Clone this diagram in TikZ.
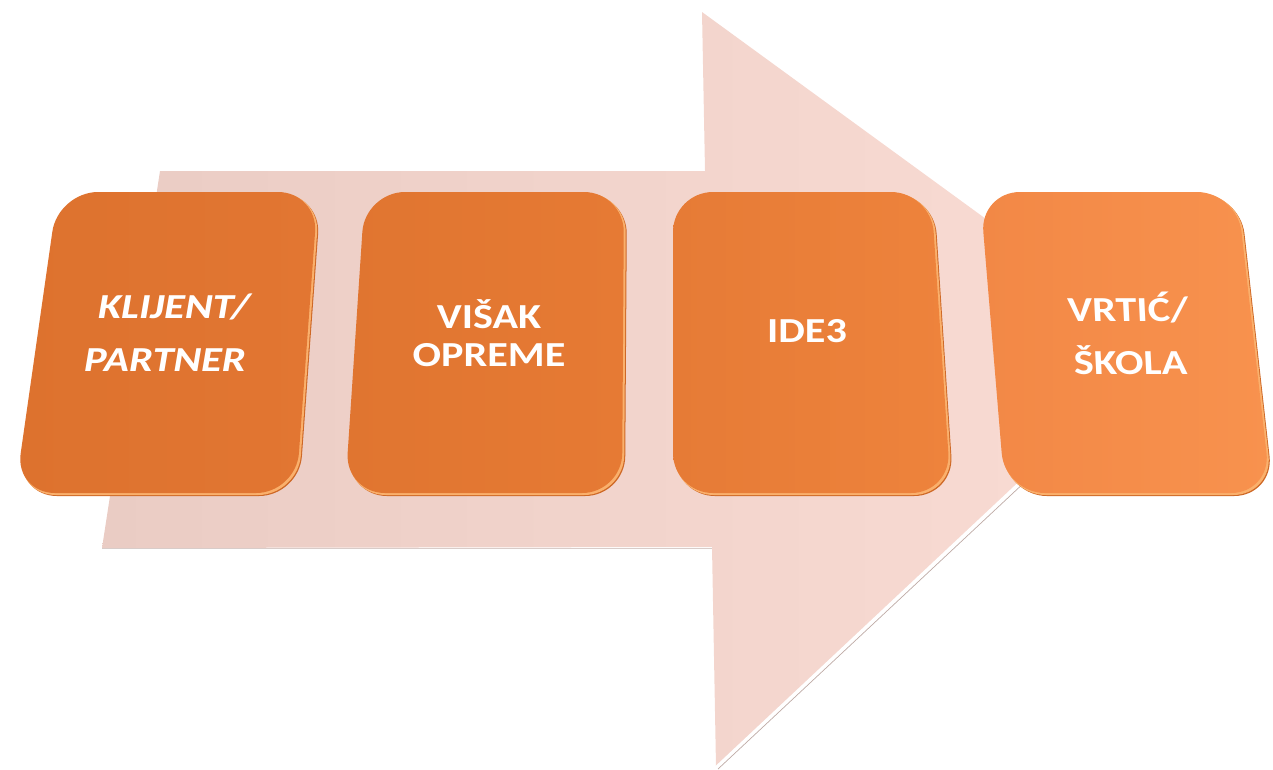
\documentclass[tikz,border=0pt]{standalone}
\usepackage{fontspec}
\setmainfont{Carlito}

\definecolor{strelicaL}{RGB}{234,204,196}
\definecolor{strelicaD}{RGB}{250,220,212}
\definecolor{rubStrelice}{RGB}{190,170,165}
\definecolor{sjena}{RGB}{206,104,38}
\definecolor{odsjaj}{RGB}{250,176,108}

\begin{document}
\begin{tikzpicture}[x=0.02cm,y=-0.02cm,
    kartica/.style={rounded corners=0.8cm},
    natpis/.style={text=white,font=\fontsize{20}{30}\selectfont\bfseries,align=center,xscale=1.2,transform shape}]
  \useasboundingbox (0,0) rectangle (1273,769);

  % velika strelica u pozadini
  \shade[left color=strelicaL,right color=strelicaD]
    (102,548) -- (160,171) -- (705,171) -- (702,12) -- (1163,348)
    -- (716,767) -- (712,547) -- cycle;
  \draw[white,line width=1.2pt] (1163,348) -- (716,767);
  \draw[rubStrelice,line width=0.4pt] (1166,350) -- (718,769);
  \draw[rubStrelice!60,line width=0.4pt] (102,548) -- (712,548);

  % kartice
  \fill[kartica,sjena] (60,194) -- (321,194) -- (299,496) -- (17,496) -- cycle;
  \fill[kartica,odsjaj] (59,193) -- (320,193) -- (298,495) -- (16,495) -- cycle;
  \shade[kartica,left color={rgb,255:red,221;green,114;blue,46},right color={rgb,255:red,226;green,118;blue,50}]
    (58,192) -- (318,192) -- (296,493) -- (15,493) -- cycle;

  \fill[kartica,sjena] (367,194) -- (627,194) -- (625,496) -- (347,496) -- cycle;
  \fill[kartica,odsjaj] (366,193) -- (626,193) -- (624,495) -- (346,495) -- cycle;
  \shade[kartica,left color={rgb,255:red,224;green,117;blue,48},right color={rgb,255:red,230;green,122;blue,52}]
    (365,192) -- (624,192) -- (622,493) -- (345,493) -- cycle;

  \fill[kartica,sjena] (675,194) -- (934,194) -- (954,496) -- (675,496) -- cycle;
  \fill[kartica,odsjaj] (674,193) -- (933,193) -- (953,495) -- (674,495) -- cycle;
  \shade[kartica,left color={rgb,255:red,230;green,123;blue,54},right color={rgb,255:red,238;green,131;blue,60}]
    (673,192) -- (931,192) -- (951,493) -- (673,493) -- cycle;

  \fill[kartica,sjena] (982,194) -- (1240,194) -- (1274,496) -- (1007,496) -- cycle;
  \fill[kartica,odsjaj] (981,193) -- (1239,193) -- (1273,495) -- (1006,495) -- cycle;
  \shade[kartica,left color={rgb,255:red,242;green,136;blue,70},right color={rgb,255:red,248;green,146;blue,78}]
    (980,192) -- (1237,192) -- (1271,493) -- (1005,493) -- cycle;

  % natpisi
  \node[natpis,xslant=0.14] (klijent) at (170,333) {KLIJENT/\\PARTNER};
  \node[natpis,font=\fontsize{20}{22}\selectfont\bfseries] (visak) at (489,333) {VIŠAK\\OPREME};
  \node[natpis] (ide) at (807,331) {IDE3};
  \node[natpis,xslant=-0.04] (vrtic) at (1129,333) {VRTIĆ/\\ŠKOLA};
\end{tikzpicture}
\end{document}
